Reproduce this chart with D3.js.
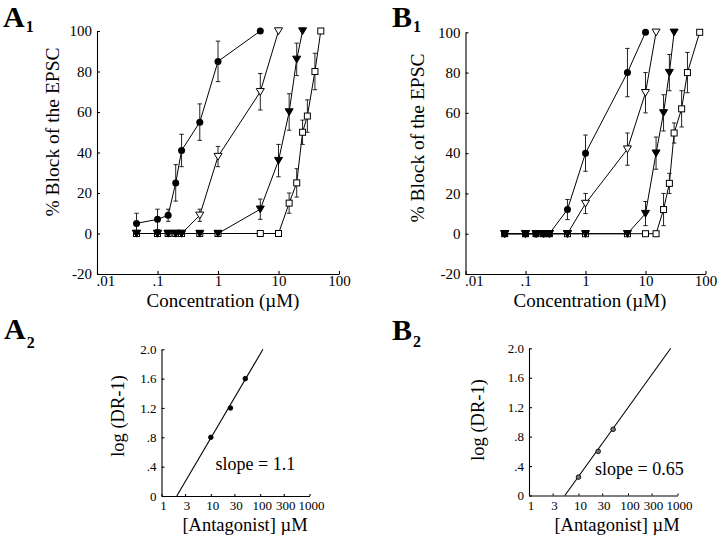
<!DOCTYPE html>
<html><head><meta charset="utf-8">
<script src="https://cdn.jsdelivr.net/npm/d3@7"></script>
<style>
body{margin:0;background:#fff}
svg{display:block;background:#fff}
text{font-family:"Liberation Serif","Times New Roman",serif;fill:#000}
</style>
</head><body>
<svg id="c" width="720" height="538"></svg>
<script>
// ---------------- DATA ----------------
const concTicks = [0.01, 0.1, 1, 10, 100];
const concTickLabels = [".01", ".1", "1", "10", "100"];
const blockTicks = [-20, 0, 20, 40, 60, 80, 100];
const blockTickLabels = ["-20", "0", "20", "40", "60", "80", "100"];
const antTicks = [1, 3, 10, 30, 100, 300, 1000];
const antTickLabels = ["1", "3", "10", "30", "100", "300", "1000"];
const drTicks = [0, 0.4, 0.8, 1.2, 1.6, 2.0];
const drTickLabels = ["0", ".4", ".8", "1.2", "1.6", "2.0"];

// Panel A1
const a1CircleX = [0.045, 0.1, 0.15, 0.2, 0.25, 0.5, 1, 5];
const a1CircleY = [5, 7, 9, 25, 41, 55, 85, 100];
const a1CircleErr = [5, 5, 3, 9, 8, 9, 10, 0];
const a1OpenTriX = [0.045, 0.1, 0.15, 0.2, 0.25, 0.5, 1, 5, 10];
const a1OpenTriY = [0, 0, 0, 0, 0, 9, 38, 70, 100];
const a1OpenTriErr = [0, 0, 0, 0, 0, 3, 5, 9, 0];
const a1FilledTriX = [0.045, 0.1, 0.15, 0.2, 0.25, 0.5, 1, 5, 10, 15, 20, 25];
const a1FilledTriY = [0, 0, 0, 0, 0, 0, 0, 12, 36, 60, 86, 100];
const a1FilledTriErr = [0, 0, 0, 0, 0, 0, 0, 5, 8, 9, 8, 0];
const a1OpenSqX = [0.045, 0.1, 0.15, 0.2, 0.25, 0.5, 1, 5, 10, 15, 20, 25, 30, 40, 50];
const a1OpenSqY = [0, 0, 0, 0, 0, 0, 0, 0, 0, 15, 25, 50, 58, 80, 100];
const a1OpenSqErr = [0, 0, 0, 0, 0, 0, 0, 0, 0, 5, 7, 6, 8, 9, 0];

// Panel B1
const b1CircleX = [0.045, 0.1, 0.15, 0.2, 0.25, 0.5, 1, 5, 10];
const b1CircleY = [0, 0, 0, 0, 0, 12, 40, 80, 100];
const b1CircleErr = [0, 0, 0, 0, 0, 5, 9, 12, 0];
const b1OpenTriX = [0.045, 0.1, 0.15, 0.2, 0.25, 0.5, 1, 5, 10, 15];
const b1OpenTriY = [0, 0, 0, 0, 0, 0, 15, 42, 70, 100];
const b1OpenTriErr = [0, 0, 0, 0, 0, 0, 5, 8, 10, 0];
const b1FilledTriX = [0.045, 0.1, 0.15, 0.2, 0.25, 0.5, 1, 5, 10, 15, 20, 25, 30];
const b1FilledTriY = [0, 0, 0, 0, 0, 0, 0, 0, 10, 40, 60, 80, 100];
const b1FilledTriErr = [0, 0, 0, 0, 0, 0, 0, 0, 6, 8, 9, 9, 0];
const b1OpenSqX = [0.045, 0.1, 0.15, 0.2, 0.25, 0.5, 1, 5, 10, 15, 20, 25, 30, 40, 50, 80];
const b1OpenSqY = [0, 0, 0, 0, 0, 0, 0, 0, 0, 0, 12, 25, 50, 62, 80, 100];
const b1OpenSqErr = [0, 0, 0, 0, 0, 0, 0, 0, 0, 0, 8, 5, 5, 9, 10, 0];

// Schild plots
const a2AntX = [10, 25, 50];
const a2LogDR = [0.8, 1.2, 1.6];
const a2FitX = [2.04, 114];
const a2FitY = [0, 2.0];
const a2SlopeText = "slope = 1.1";
const b2AntX = [10, 25, 50];
const b2LogDR = [0.25, 0.6, 0.9];
const b2FitX = [5.3, 730];
const b2FitY = [0, 2.0];
const b2SlopeText = "slope = 0.65";

const doseXTitle = "Concentration (\u00b5M)";
const doseYTitle = "% Block of the EPSC";
const schildXTitle = "[Antagonist] \u00b5M";
const schildYTitle = "log (DR-1)";

// ---------------- DRAW ----------------
const SERIF = '"Liberation Serif","Times New Roman",serif';
const svg = d3.select("#c");
svg.append("rect").attr("width", 720).attr("height", 538).attr("fill", "#fff");

function zip(xs, ys, es) { return xs.map((x, i) => ({x, y: ys[i], e: es ? es[i] : 0})); }

const triDown = "M-4,-3.2 L4,-3.2 L0,3.6 Z";

function drawDose(cfg) {
  const x = d3.scaleLog().domain([0.01, 100]).range(cfg.xr);
  const y = d3.scaleLinear().domain([-20, 100]).range(cfg.yr);
  const g = svg.append("g");

  const ya = d3.axisLeft(y).tickValues(blockTicks)
    .tickFormat((d, i) => blockTickLabels[i]).tickSizeInner(-3).tickSizeOuter(0).tickPadding(5);
  const gy = g.append("g").attr("transform", `translate(${cfg.xr[0]},0)`).call(ya);
  const xa = d3.axisBottom(x).tickValues(concTicks)
    .tickFormat((d, i) => concTickLabels[i]).tickSizeInner(-3).tickSizeOuter(0).tickPadding(1);
  const gx = g.append("g").attr("transform", `translate(0,${cfg.yr[0]})`).call(xa);
  [gx, gy].forEach(a => {
    a.attr("font-family", SERIF);
    a.selectAll("text").attr("font-size", 15).attr("font-family", SERIF).attr("fill", "#000");
    a.selectAll("line,path").attr("stroke", "#000").attr("stroke-width", 1.1);
  });
  gx.selectAll(".tick text").filter((d, i) => i === 0).attr("text-anchor", "start").attr("x", -1);

  const series = [
    {d: zip(cfg.sq[0], cfg.sq[1], cfg.sq[2]), type: "sq"},
    {d: zip(cfg.ot[0], cfg.ot[1], cfg.ot[2]), type: "ot"},
    {d: zip(cfg.ft[0], cfg.ft[1], cfg.ft[2]), type: "ft"},
    {d: zip(cfg.ci[0], cfg.ci[1], cfg.ci[2]), type: "ci"}
  ];
  const line = d3.line().x(p => x(p.x)).y(p => y(p.y));
  series.forEach(s => {
    g.append("path").attr("d", line(s.d)).attr("fill", "none").attr("stroke", "#000").attr("stroke-width", 1);
  });
  series.forEach(s => {
    s.d.filter(p => p.e > 0).forEach(p => {
      const cx = x(p.x), y1 = y(p.y + p.e), y2 = y(p.y - p.e);
      g.append("line").attr("x1", cx).attr("x2", cx).attr("y1", y1).attr("y2", y2).attr("stroke", "#222").attr("stroke-width", 1);
      [y1, y2].forEach(yy => g.append("line").attr("x1", cx - 2.2).attr("x2", cx + 2.2).attr("y1", yy).attr("y2", yy).attr("stroke", "#222").attr("stroke-width", 1));
    });
  });
  series.forEach(s => {
    s.d.forEach(p => {
      const cx = x(p.x), cy = y(p.y);
      if (s.type === "sq") {
        g.append("rect").attr("x", cx - 3).attr("y", cy - 3).attr("width", 6).attr("height", 6)
          .attr("fill", "#fff").attr("stroke", "#000").attr("stroke-width", 1);
      } else if (s.type === "ot") {
        g.append("path").attr("d", triDown).attr("transform", `translate(${cx},${cy})`)
          .attr("fill", "#fff").attr("stroke", "#000").attr("stroke-width", 1);
      } else if (s.type === "ft") {
        g.append("path").attr("d", triDown).attr("transform", `translate(${cx},${cy})`)
          .attr("fill", "#000").attr("stroke", "#000").attr("stroke-width", 1);
      } else {
        g.append("circle").attr("cx", cx).attr("cy", cy).attr("r", 3.5).attr("fill", "#000");
      }
    });
  });

  g.append("text").attr("transform", `translate(${cfg.ytx},${cfg.yty}) rotate(-90)`)
    .attr("text-anchor", "middle").attr("dominant-baseline", "central").attr("font-size", 19.5).text(doseYTitle);
  g.append("text").attr("x", cfg.xtx).attr("y", cfg.xty).attr("text-anchor", "middle").attr("font-size", 19).text(doseXTitle);
}

function drawSchild(cfg) {
  const x = d3.scaleLog().domain([1, 1000]).range(cfg.xr);
  const y = d3.scaleLinear().domain([0, 2]).range(cfg.yr);
  const g = svg.append("g");
  const ya = d3.axisLeft(y).tickValues(drTicks).tickFormat((d, i) => drTickLabels[i])
    .tickSizeInner(-3).tickSizeOuter(0).tickPadding(5);
  const gy = g.append("g").attr("transform", `translate(${cfg.xr[0]},0)`).call(ya);
  const xa = d3.axisBottom(x).tickValues(antTicks).tickFormat((d, i) => antTickLabels[i])
    .tickSizeInner(-2).tickSizeOuter(0).tickPadding(5);
  const gx = g.append("g").attr("transform", `translate(0,${cfg.yr[0]})`).call(xa);
  [gx, gy].forEach(a => {
    a.attr("font-family", SERIF);
    a.selectAll("text").attr("font-size", 13).attr("font-family", SERIF).attr("fill", "#000");
    a.selectAll("line,path").attr("stroke", "#000").attr("stroke-width", 1.1);
  });
  gx.selectAll(".tick text").attr("dx", 1.5);

  g.append("line").attr("x1", x(cfg.fitX[0])).attr("y1", y(cfg.fitY[0]))
    .attr("x2", x(cfg.fitX[1])).attr("y2", y(cfg.fitY[1])).attr("stroke", "#000").attr("stroke-width", 1.1);
  cfg.px.forEach((v, i) => {
    g.append("circle").attr("cx", x(v)).attr("cy", y(cfg.py[i])).attr("r", 2.3)
      .attr("fill", cfg.open ? "#777" : "#000").attr("stroke", "#000").attr("stroke-width", 0.9);
  });
  g.append("text").attr("x", cfg.sx).attr("y", cfg.sy).attr("font-size", 18).text(cfg.slope);
  g.append("text").attr("transform", `translate(${cfg.ytx},${cfg.yty}) rotate(-90)`)
    .attr("text-anchor", "middle").attr("dominant-baseline", "central").attr("font-size", 18.5).text(schildYTitle);
  g.append("text").attr("x", cfg.xtx).attr("y", cfg.xty).attr("text-anchor", "middle").attr("font-size", 18.5).text(schildXTitle);
}

function panelLabel(letter, sub, x, y, subY) {
  const t = svg.append("text").attr("x", x).attr("y", y).attr("font-weight", "bold");
  t.append("tspan").attr("font-size", 30).text(letter);
  t.append("tspan").attr("font-size", 16).attr("y", subY).attr("dx", 1).text(sub);
}

drawDose({xr: [97, 339], yr: [274, 31],
  ci: [a1CircleX, a1CircleY, a1CircleErr], ot: [a1OpenTriX, a1OpenTriY, a1OpenTriErr],
  ft: [a1FilledTriX, a1FilledTriY, a1FilledTriErr], sq: [a1OpenSqX, a1OpenSqY, a1OpenSqErr],
  ytx: 52, yty: 132, xtx: 223, xty: 307});
drawDose({xr: [465.5, 705.5], yr: [274, 32.3],
  ci: [b1CircleX, b1CircleY, b1CircleErr], ot: [b1OpenTriX, b1OpenTriY, b1OpenTriErr],
  ft: [b1FilledTriX, b1FilledTriY, b1FilledTriErr], sq: [b1OpenSqX, b1OpenSqY, b1OpenSqErr],
  ytx: 417, yty: 138, xtx: 590, xty: 307});
drawSchild({xr: [161.5, 309.5], yr: [496, 349.3], px: a2AntX, py: a2LogDR, fitX: a2FitX, fitY: a2FitY,
  open: false, slope: a2SlopeText, sx: 215.5, sy: 470, ytx: 118, yty: 416, xtx: 245, xty: 531});
drawSchild({xr: [529, 677.5], yr: [495.5, 348.3], px: b2AntX, py: b2LogDR, fitX: b2FitX, fitY: b2FitY,
  open: true, slope: b2SlopeText, sx: 595, sy: 475, ytx: 478, yty: 420, xtx: 617, xty: 531});

panelLabel("A", "1", 3, 27, 32);
panelLabel("B", "1", 392, 27, 32);
panelLabel("A", "2", 4, 339, 348);
panelLabel("B", "2", 392, 340, 347);
</script>
</body></html>
